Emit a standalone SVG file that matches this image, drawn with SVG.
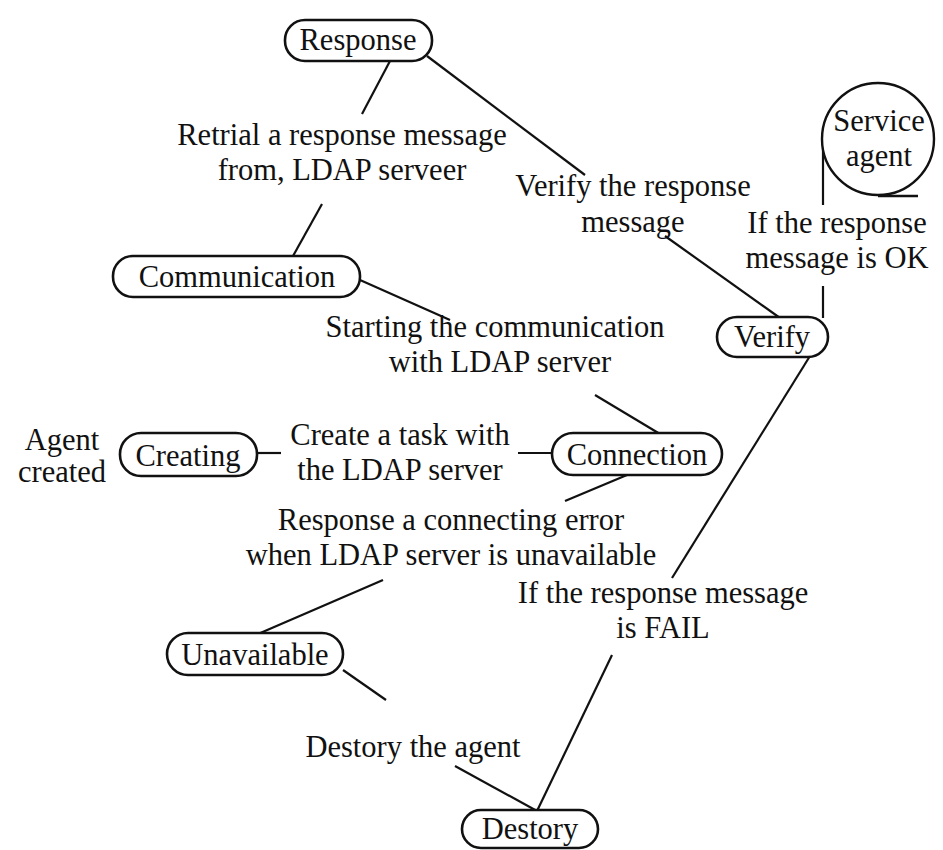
<svg xmlns="http://www.w3.org/2000/svg" width="943" height="850" viewBox="0 0 943 850">
  <style>
    text { font-family: 'Liberation Serif', 'Times New Roman', serif; font-size: 30.5px; fill: #111; text-anchor: middle; }
    .node rect { fill: #fff; stroke: #111; stroke-width: 2.6; }
    .node circle { fill: #fff; stroke: #111; stroke-width: 2.4; }
    .edges line { stroke: #111; stroke-width: 2.2; }
  </style>
  <rect width="943" height="850" fill="#fff"/>

  <!-- connectors -->
  <g class="edges">
    <line x1="390" y1="61" x2="362" y2="114"/>
    <line x1="427" y1="56" x2="585" y2="175"/>
    <line x1="293" y1="256" x2="322" y2="204"/>
    <line x1="360" y1="280" x2="450" y2="320"/>
    <line x1="595" y1="395" x2="660" y2="434"/>
    <line x1="665" y1="236" x2="780" y2="318"/>
    <line x1="823" y1="139" x2="823" y2="205"/>
    <line x1="823" y1="286" x2="823" y2="318"/>
    <line x1="257" y1="453" x2="281" y2="453"/>
    <line x1="518" y1="453" x2="552" y2="453"/>
    <line x1="627" y1="475" x2="565" y2="501"/>
    <line x1="383" y1="580" x2="258" y2="634"/>
    <line x1="810" y1="356" x2="672" y2="578"/>
    <line x1="343" y1="670" x2="386" y2="700"/>
    <line x1="455" y1="766" x2="537" y2="811"/>
    <line x1="612" y1="655" x2="537" y2="811"/>
  </g>

  <!-- nodes -->
  <g id="response" class="node">
    <rect x="285" y="20" width="147" height="41" rx="20"/>
    <text x="358" y="50">Response</text>
  </g>
  <g id="service-agent" class="node">
    <circle cx="878" cy="139" r="56"/>
    <line x1="878" y1="196" x2="918" y2="196" stroke="#111" stroke-width="2.6"/>
    <text x="879" y="131">Service</text>
    <text x="879" y="166">agent</text>
  </g>
  <g id="communication" class="node">
    <rect x="113" y="256" width="247" height="41" rx="20"/>
    <text x="237" y="287">Communication</text>
  </g>
  <g id="verify" class="node">
    <rect x="717" y="317" width="111" height="40" rx="20"/>
    <text x="772" y="347">Verify</text>
  </g>
  <g id="creating" class="node">
    <rect x="120" y="433" width="137" height="43" rx="21"/>
    <text x="188" y="466">Creating</text>
  </g>
  <g id="connection" class="node">
    <rect x="552" y="433" width="170" height="42" rx="21"/>
    <text x="637" y="465">Connection</text>
  </g>
  <g id="unavailable" class="node">
    <rect x="167" y="633" width="176" height="42" rx="21"/>
    <text x="255" y="665">Unavailable</text>
  </g>
  <g id="destory" class="node">
    <rect x="462" y="810" width="136" height="38" rx="19"/>
    <text x="530" y="839">Destory</text>
  </g>

  <!-- edge labels -->
  <g id="labels">
    <text x="342" y="145">Retrial a response message</text>
    <text x="342" y="180">from, LDAP serveer</text>
    <text x="633" y="196">Verify the response</text>
    <text x="633" y="232">message</text>
    <text x="837" y="233">If the response</text>
    <text x="837" y="268">message is OK</text>
    <text x="495" y="337">Starting the communication</text>
    <text x="500" y="372">with LDAP server</text>
    <text x="62" y="450">Agent</text>
    <text x="62" y="482">created</text>
    <text x="400" y="445">Create a task with</text>
    <text x="400" y="480">the LDAP server</text>
    <text x="451" y="530">Response a connecting error</text>
    <text x="451" y="565">when LDAP server is unavailable</text>
    <text x="663" y="603">If the response message</text>
    <text x="663" y="638">is FAIL</text>
    <text x="413" y="757">Destory the agent</text>
  </g>
</svg>
